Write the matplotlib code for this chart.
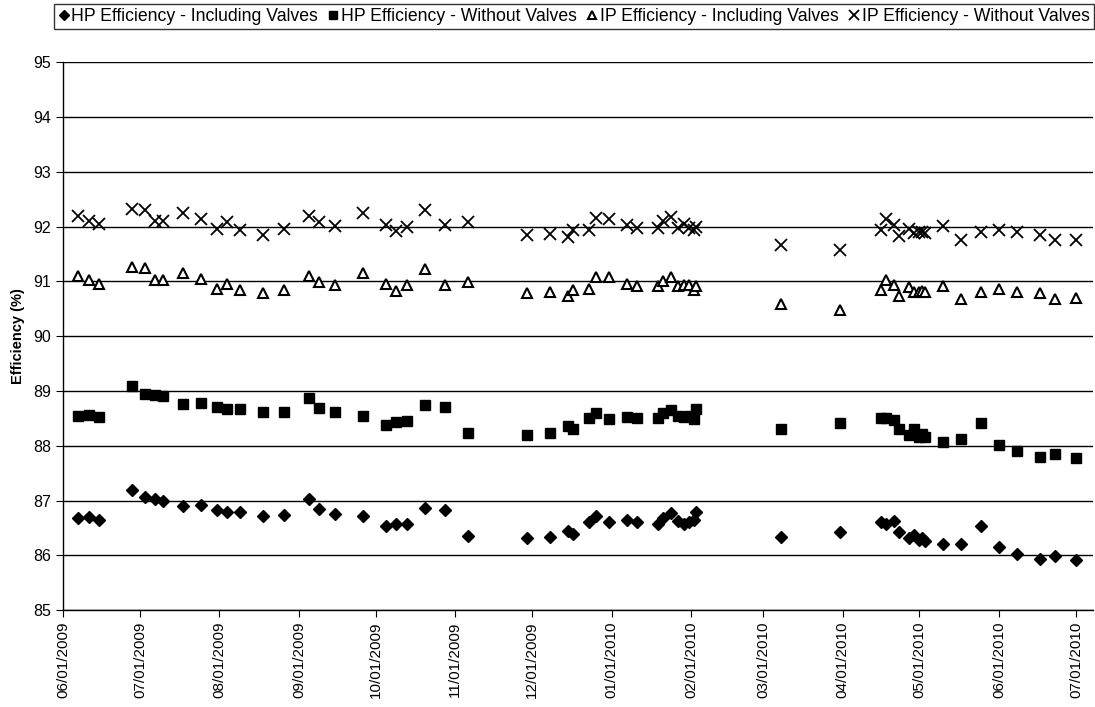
"""
HP / IP turbine efficiency trend, June 2009 - July 2010.
"""
import numpy as np
import pandas as pd
import matplotlib
matplotlib.use('Agg')
import matplotlib.pyplot as plt
import matplotlib.dates as mdates

plt.rcParams['font.family'] = ['Liberation Sans', 'DejaVu Sans']

# test dates
dates = pd.to_datetime([
    '2009-06-07', '2009-06-11', '2009-06-15', '2009-06-28', '2009-07-03',
    '2009-07-07', '2009-07-10', '2009-07-18', '2009-07-25', '2009-07-31',
    '2009-08-04', '2009-08-09', '2009-08-18', '2009-08-26', '2009-09-05',
    '2009-09-09', '2009-09-15', '2009-09-26', '2009-10-05', '2009-10-09',
    '2009-10-13', '2009-10-20', '2009-10-28', '2009-11-06', '2009-11-29',
    '2009-12-08', '2009-12-15', '2009-12-17', '2009-12-23', '2009-12-26',
    '2009-12-31', '2010-01-07', '2010-01-11', '2010-01-19', '2010-01-21',
    '2010-01-24', '2010-01-27', '2010-01-29', '2010-01-31', '2010-02-02',
    '2010-02-03', '2010-03-08', '2010-03-31', '2010-04-16', '2010-04-18',
    '2010-04-21', '2010-04-23', '2010-04-27', '2010-04-29', '2010-05-01',
    '2010-05-02', '2010-05-03', '2010-05-10', '2010-05-17', '2010-05-25',
    '2010-06-01', '2010-06-08', '2010-06-17', '2010-06-23', '2010-07-01',
])

hp_incl = [86.68, 86.70, 86.65, 87.20, 87.06, 87.03, 87.00, 86.90, 86.91, 86.83,
           86.80, 86.79, 86.72, 86.74, 87.02, 86.85, 86.76, 86.71, 86.53, 86.57,
           86.58, 86.87, 86.82, 86.36, 86.32, 86.34, 86.44, 86.39, 86.60, 86.71,
           86.60, 86.64, 86.60, 86.58, 86.69, 86.77, 86.62, 86.58, 86.60, 86.64,
           86.80, 86.34, 86.42, 86.61, 86.58, 86.63, 86.43, 86.32, 86.37, 86.28,
           86.32, 86.26, 86.20, 86.21, 86.54, 86.15, 86.03, 85.94, 85.99, 85.91]

hp_wo = [88.54, 88.57, 88.52, 89.09, 88.94, 88.93, 88.90, 88.77, 88.78, 88.70,
         88.67, 88.67, 88.62, 88.62, 88.88, 88.69, 88.62, 88.55, 88.37, 88.43,
         88.46, 88.75, 88.70, 88.23, 88.20, 88.24, 88.36, 88.31, 88.51, 88.60,
         88.48, 88.53, 88.50, 88.50, 88.60, 88.66, 88.55, 88.52, 88.55, 88.49,
         88.68, 88.31, 88.42, 88.51, 88.50, 88.47, 88.31, 88.20, 88.31, 88.16,
         88.22, 88.16, 88.07, 88.12, 88.42, 88.01, 87.90, 87.79, 87.85, 87.77]

ip_incl = [91.10, 91.02, 90.96, 91.27, 91.25, 91.02, 91.02, 91.15, 91.04, 90.87,
           90.96, 90.85, 90.78, 90.85, 91.10, 90.99, 90.93, 91.16, 90.95, 90.82,
           90.93, 91.23, 90.94, 90.99, 90.79, 90.80, 90.74, 90.85, 90.87, 91.08,
           91.08, 90.95, 90.92, 90.91, 91.00, 91.08, 90.91, 90.94, 90.93, 90.85,
           90.91, 90.58, 90.48, 90.85, 91.02, 90.93, 90.73, 90.90, 90.80, 90.80,
           90.82, 90.80, 90.91, 90.68, 90.80, 90.87, 90.80, 90.79, 90.68, 90.70]

ip_wo = [92.19, 92.10, 92.05, 92.32, 92.31, 92.11, 92.11, 92.24, 92.14, 91.95,
         92.08, 91.94, 91.85, 91.95, 92.20, 92.08, 92.01, 92.25, 92.02, 91.92,
         91.99, 92.31, 92.02, 92.08, 91.85, 91.87, 91.81, 91.93, 91.93, 92.16,
         92.14, 92.02, 91.98, 91.98, 92.11, 92.17, 91.98, 92.04, 91.98, 91.93,
         91.99, 91.67, 91.58, 91.93, 92.13, 92.02, 91.82, 91.96, 91.88, 91.90,
         91.90, 91.88, 92.01, 91.76, 91.91, 91.94, 91.90, 91.85, 91.76, 91.76]

fig = plt.figure(figsize=(10.95, 7.07), dpi=100)
ax = fig.add_axes([0.0575, 0.137, 0.9405, 0.775])

ax.plot(dates, hp_incl, linestyle='none', marker='D', ms=6, color='black',
        label='HP Efficiency - Including Valves')
ax.plot(dates, hp_wo, linestyle='none', marker='s', ms=7, color='black',
        label='HP Efficiency - Without Valves')
ax.plot(dates, ip_incl, linestyle='none', marker='^', ms=7, mfc='white',
        mec='black', mew=1.5, label='IP Efficiency - Including Valves')
ax.plot(dates, ip_wo, linestyle='none', marker='x', ms=8, mew=1.3, color='black',
        label='IP Efficiency - Without Valves')

ax.set_ylim(85, 95)
ax.set_yticks(np.arange(85, 96, 1))
ax.yaxis.grid(True, color='black', linewidth=1.0)
ax.set_axisbelow(True)
ax.set_xlim(pd.Timestamp('2009-06-01'), pd.Timestamp('2010-07-07 14:00'))
ax.xaxis.set_major_locator(mdates.MonthLocator())
ax.xaxis.set_major_formatter(mdates.DateFormatter('%m/%d/%Y'))
plt.setp(ax.get_xticklabels(), rotation=90)
ax.tick_params(axis='x', labelsize=11, length=5, color='black')
ax.tick_params(axis='y', labelsize=11.5, length=5, color='black')
ax.set_ylabel('Efficiency (%)', fontsize=10.5, fontweight='bold', labelpad=6)

ax.spines['right'].set_visible(False)
ax.spines['top'].set_visible(False)
for s in ['left', 'bottom']:
    ax.spines[s].set_color('black')
    ax.spines[s].set_linewidth(1.0)

leg = fig.legend(loc='upper right', bbox_to_anchor=(0.999, 0.995), ncol=4,
                 frameon=True, fancybox=False, fontsize=12.7, handlelength=0.6,
                 handletextpad=0.15, columnspacing=0.55, borderpad=0.25,
                 borderaxespad=0, markerscale=0.85)
leg.get_frame().set_edgecolor('black')
leg.get_frame().set_linewidth(1.0)

fig.savefig('out.png', dpi=100)
